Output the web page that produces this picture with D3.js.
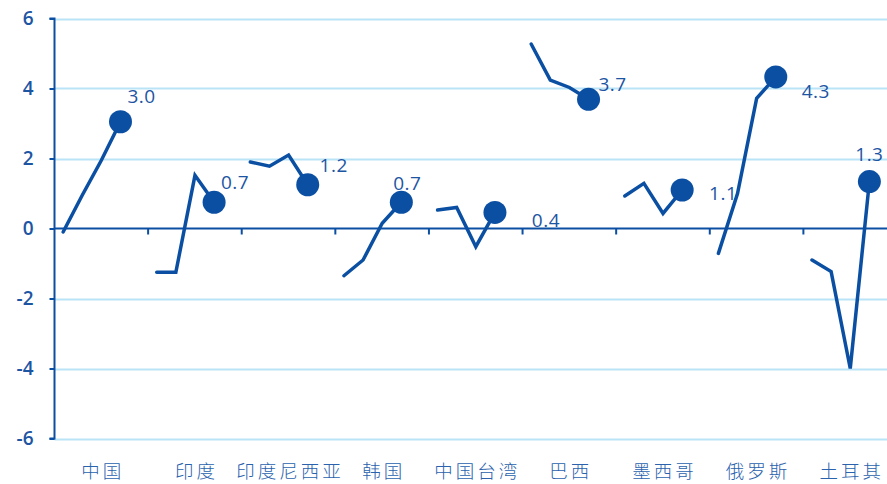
<!DOCTYPE html>
<html>
<head>
<meta charset="utf-8">
<script src="https://cdn.jsdelivr.net/npm/d3@7"></script>
<style>
  html, body { margin: 0; padding: 0; background: #ffffff; }
  svg { display: block; }
</style>
</head>
<body>
<svg id="chart" width="887" height="484"></svg>
<script>
// ---- data ----
const categories = ["中国", "印度", "印度尼西亚", "韩国", "中国台湾", "巴西", "墨西哥", "俄罗斯", "土耳其"];
const chinaValues     = [-0.1, 0.95, 1.95, 3.05];
const indiaValues     = [-1.25, -1.25, 1.52, 0.75];
const indonesiaValues = [1.9, 1.78, 2.1, 1.25];
const koreaValues     = [-1.35, -0.9, 0.15, 0.75];
const taiwanValues    = [0.53, 0.6, -0.52, 0.46];
const brazilValues    = [5.27, 4.24, 4.03, 3.69];
const mexicoValues    = [0.93, 1.29, 0.43, 1.1];
const russiaValues    = [-0.71, 1.0, 3.72, 4.33];
const turkeyValues    = [-0.9, -1.23, -4.0, 1.34];
const seriesValues = [chinaValues, indiaValues, indonesiaValues, koreaValues, taiwanValues,
                      brazilValues, mexicoValues, russiaValues, turkeyValues];
const valueLabels = ["3.0", "0.7", "1.2", "0.7", "0.4", "3.7", "1.1", "4.3", "1.3"];
const yTicks = [-6, -4, -2, 0, 2, 4, 6];
const yTickLabels = ["-6", "-4", "-2", "0", "2", "4", "6"];

// ---- layout (styles / positions kept separate from data) ----
const labelOffsets = [[21, -25], [21, -20], [26, -19], [6, -19], [51, 8], [24, -15], [41, 3], [40, 14], [0, -27]];
const blue = "#0b4fa3";
const textBlue = "#1d55a3";
const gridBlue = "#b9e3f6";

const svg = d3.select("#chart");
const left = 54.5, right = 897;
const y = d3.scaleLinear().domain([-6, 6]).range([438.5, 18.5]);
const x = d3.scaleBand().domain(categories).range([left, right]).padding(0);
const bw = x.bandwidth();
const sub = d3.scaleLinear().domain([0, 3]).range([bw * 0.092, bw * 0.705]);

// gridlines
svg.append("g").selectAll("line")
  .data(yTicks.filter(t => t !== 0))
  .join("line")
  .attr("x1", left).attr("x2", 887)
  .attr("y1", d => Math.round(y(d)) + 0.5).attr("y2", d => Math.round(y(d)) + 0.5)
  .attr("stroke", gridBlue).attr("stroke-width", 2);

// y axis
const yAxis = d3.axisLeft(y).tickValues(yTicks).tickSize(5).tickPadding(16)
  .tickFormat((d, i) => yTickLabels[i]);
const yg = svg.append("g").attr("transform", `translate(${left},0)`).call(yAxis);
yg.select(".domain").attr("stroke", blue).attr("stroke-width", 2)
  .attr("d", `M-5,${y(6)}H0V${y(-6)}H-5`);
yg.selectAll(".tick line").attr("stroke", blue).attr("stroke-width", 2);
yg.selectAll(".tick text")
  .attr("fill", textBlue)
  .style("font-family", "'Open Sans', 'Noto Sans', sans-serif")
  .style("font-size", "19px").style("font-weight", "600");

// x axis at zero (ticks at band boundaries)
const zg = svg.append("g");
zg.append("line").attr("x1", left).attr("x2", 887)
  .attr("y1", y(0)).attr("y2", y(0))
  .attr("stroke", blue).attr("stroke-width", 2);
zg.selectAll("line.tk").data(categories.slice(1)).join("line").attr("class", "tk")
  .attr("x1", d => x(d)).attr("x2", d => x(d))
  .attr("y1", y(0)).attr("y2", y(0) + 6)
  .attr("stroke", blue).attr("stroke-width", 2);

// category labels
svg.append("g").selectAll("text").data(categories).join("text")
  .attr("x", d => x(d) + bw / 2 + 1.5)
  .attr("y", 478)
  .attr("text-anchor", "middle")
  .attr("fill", "#2a62ad")
  .style("font-family", "'Noto Sans CJK SC', sans-serif")
  .style("font-weight", "300")
  .style("font-size", "18.5px")
  .style("letter-spacing", "3px")
  .text(d => d);

// lines + dots + labels
const line = d3.line().x((d, i) => sub(i)).y(d => y(d));
const groups = svg.append("g").selectAll("g").data(categories).join("g")
  .attr("transform", d => `translate(${x(d)},0)`);

groups.append("path")
  .attr("d", (d, i) => line(seriesValues[i]))
  .attr("fill", "none").attr("stroke", blue).attr("stroke-width", 3.5)
  .attr("stroke-linejoin", "miter").attr("stroke-linecap", "round");

groups.append("circle")
  .attr("cx", sub(3))
  .attr("cy", (d, i) => y(seriesValues[i][3]))
  .attr("r", 11.5)
  .attr("fill", blue);

groups.append("text")
  .attr("x", (d, i) => sub(3) + labelOffsets[i][0])
  .attr("y", (d, i) => y(seriesValues[i][3]) + labelOffsets[i][1])
  .attr("dy", "0.35em")
  .attr("text-anchor", "middle")
  .attr("fill", textBlue)
  .style("font-family", "'Open Sans', 'Noto Sans', sans-serif")
  .style("font-size", "19px")
  .style("letter-spacing", "0.5px")
  .text((d, i) => valueLabels[i]);
</script>
</body>
</html>
